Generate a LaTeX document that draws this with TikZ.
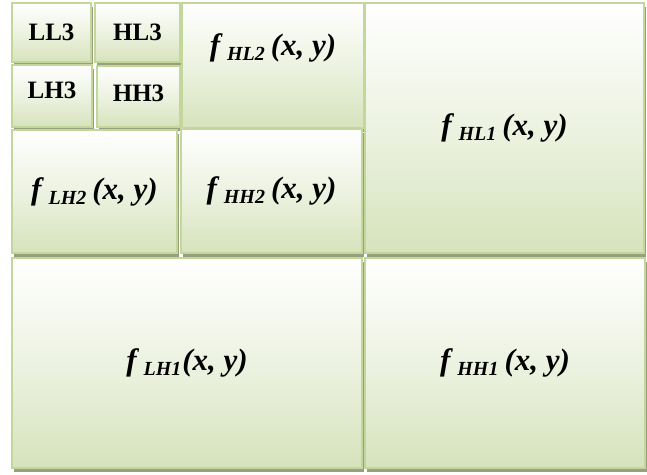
\documentclass[tikz,border=0pt]{standalone}
\usepackage{fontspec}
\setmainfont{Liberation Serif}
\usetikzlibrary{shadows}
\definecolor{waveLine}{RGB}{195,214,155}
\definecolor{waveFill}{RGB}{214,227,188}
\definecolor{waveShadow}{RGB}{150,160,125}

% sub-band label f_{band}(x, y)
\newcommand{\bandfn}[2][6pt]{{\fontsize{31}{33}\selectfont\bfseries\itshape
  f\hspace{7pt}\raisebox{-5pt}{\fontsize{20}{22}\selectfont #2}\hspace{#1}(x, y)}}

\begin{document}
\begin{tikzpicture}[
  x=1pt, y=-1pt,
  every node/.style={align=center},
  band/.style={draw=waveLine, line width=1.8pt, top color=white, bottom color=waveFill,
    middle color=waveFill!45, shading angle=0, inner sep=0pt,
    drop shadow={shadow xshift=1.5pt, shadow yshift=-3.5pt, fill=waveShadow, opacity=1}},
  small/.style={band, font=\fontsize{25}{27}\selectfont\bfseries}
]
\useasboundingbox (0,0) rectangle (647,474);

% - level 3 -
\node[small, minimum width=79pt, minimum height=59pt] (ll3) at (51.5,32.5) {LL3};
\node[small, minimum width=85pt, minimum height=59pt] (hl3) at (137.5,32.5) {HL3};
\node[small, minimum width=80pt, minimum height=62pt, text depth=12pt] (lh3) at (52,96) {LH3};
\node[small, minimum width=83pt, minimum height=61pt, text depth=6pt] (hh3) at (138.5,96.5) {HH3};

% - level 2 -
\node[band, minimum width=182pt, minimum height=125pt, text depth=42pt] (hl2) at (273,65.5) {\bandfn{HL2}};
\node[band, minimum width=165pt, minimum height=123pt] (lh2) at (94.5,191.5) {\bandfn{LH2}};
\node[band, minimum width=181pt, minimum height=124pt] (hh2) at (271.5,191) {\bandfn{HH2}};

% - level 1 -
\node[band, minimum width=279pt, minimum height=250pt, text depth=6pt] (hl1) at (504.5,128) {\bandfn{HL1}};
\node[band, minimum width=350pt, minimum height=210pt] (lh1) at (187,363) {\bandfn[1pt]{LH1}};
\node[band, minimum width=280pt, minimum height=210pt] (hh1) at (505,363) {\bandfn{HH1}};

\end{tikzpicture}
\end{document}
